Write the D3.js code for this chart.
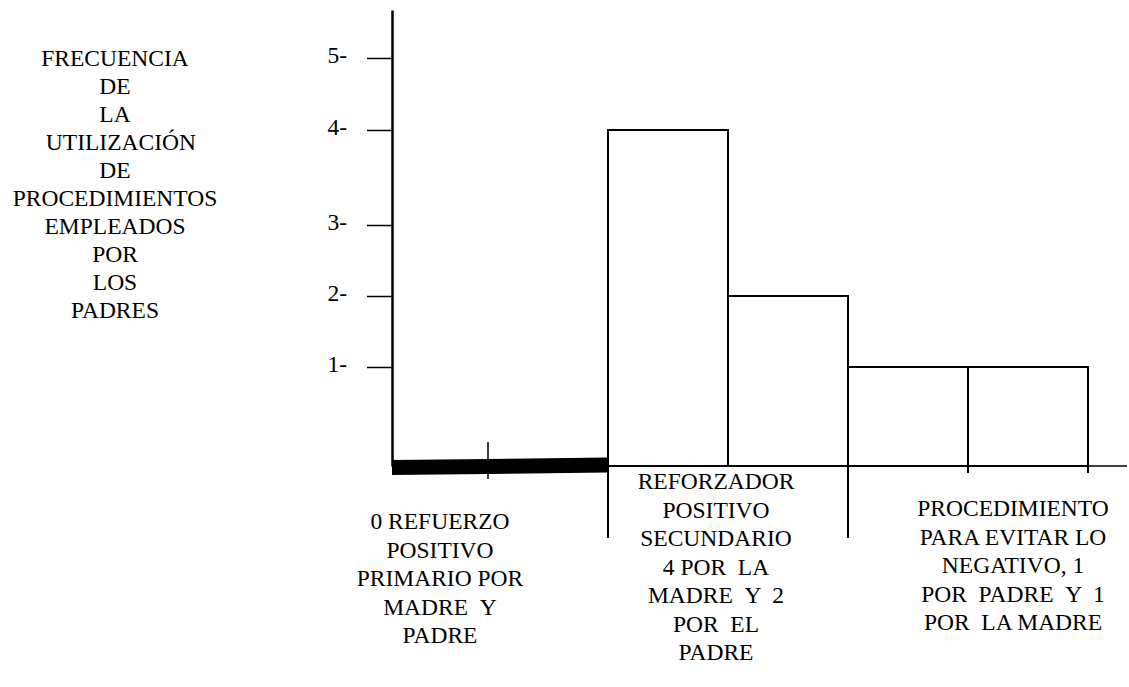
<!DOCTYPE html>
<html>
<head>
<meta charset="utf-8">
<script src="https://cdn.jsdelivr.net/npm/d3@7"></script>
<style>
  body { margin: 0; background: #fff; }
</style>
</head>
<body>
<div id="chart"></div>
<script>
// Frecuencia de procedimientos empleados por los padres
const yTitleLines = ['FRECUENCIA', 'DE', 'LA', '\u00a0\u00a0UTILIZACIÓN', 'DE', 'PROCEDIMIENTOS', 'EMPLEADOS', 'POR', 'LOS', 'PADRES'];
const yTicks = [1, 2, 3, 4, 5];

// one entry per bar (madre / padre inside each procedure)
const barGroup = [0, 0, 1, 1, 2, 2];
const barParent = ['Madre', 'Padre', 'Madre', 'Padre', 'Padre', 'Madre'];
const barValues = [0, 0, 4, 2, 1, 1];

const groupLabels = [
    ['0 REFUERZO', 'POSITIVO', 'PRIMARIO POR', 'MADRE  Y', 'PADRE'],
    ['REFORZADOR', 'POSITIVO', 'SECUNDARIO', '4 POR  LA', 'MADRE  Y  2', 'POR  EL', 'PADRE'],
    ['PROCEDIMIENTO', 'PARA EVITAR LO', 'NEGATIVO, 1', 'POR  PADRE  Y  1', 'POR  LA MADRE']
];

const width = 1129, height = 687;

const svg = d3.select('#chart')
    .append('svg')
    .attr('width', width)
    .attr('height', height);

function styleText(sel) {
    return sel
        .attr('font-family', 'Liberation Serif')
        .attr('font-size', 23.5)
        .attr('fill', '#000')
        .style('font-family', '"Liberation Serif"')
        .style('font-size', '23.5px');
}

// keep the double spaces of the original
const keepSpaces = s => s.replace(/  /g, ' \u00a0');

// Scales (hand drawn original: spacing is not even)
const xScale = d3.scaleLinear()
    .domain([0, 1, 2, 6])
    .range([392, 488, 608, 1088]);

const yScale = d3.scaleLinear()
    .domain([0, 1, 2, 3, 4, 5, 5.65])
    .range([466, 367, 296, 225, 130, 58, 10]);

const y0 = yScale(0);

// Y axis
const yAxis = svg.append('g')
    .attr('transform', `translate(${xScale(0)},0)`)
    .call(d3.axisLeft(yScale)
        .tickValues(yTicks)
        .tickSize(25)
        .tickPadding(20)
        .tickSizeOuter(0)
        .tickFormat(d => d + '-'));

yAxis.attr('font-family', 'Liberation Serif').attr('font-size', 23.5);

yAxis.select('.domain')
    .style('stroke', '#000')
    .style('stroke-width', 2.5);

yAxis.selectAll('.tick line')
    .style('stroke', '#000')
    .style('stroke-width', 1.5);

yAxis.selectAll('.tick text')
    .attr('dy', '0.2em')
    .call(styleText);

// Y title, one text per line
svg.selectAll('.ytitle')
    .data(yTitleLines)
    .join('text')
    .attr('class', 'ytitle')
    .attr('text-anchor', 'middle')
    .attr('x', 115)
    .attr('y', (d, i) => 66 + i * 28)
    .call(styleText)
    .text(d => d);

// Baseline
svg.append('line')
    .attr('x1', xScale(0))
    .attr('x2', 1127)
    .attr('y1', y0)
    .attr('y2', y0)
    .style('stroke', '#000')
    .style('stroke-width', 1.5);

const bars = barValues.map((v, i) => ({value: v, group: barGroup[i], parent: barParent[i], i: i}));

// Zero bars: heavy stroke along the baseline
svg.selectAll('.zero-bar')
    .data(bars.filter(d => d.value === 0))
    .join('path')
    .attr('class', 'zero-bar')
    .attr('d', d => {
        const xa = xScale(d.i), xb = xScale(d.i + 1);
        const slope = 2.5 / (xScale(2) - xScale(0));
        const ya = y0 + 1.5 - (xa - xScale(0)) * slope;
        const yb = y0 + 1.5 - (xb - xScale(0)) * slope;
        return `M${xa},${ya - 7.5}L${xb},${yb - 7.5}L${xb},${yb + 7.5}L${xa},${ya + 7.5}Z`;
    })
    .style('fill', '#000');

// divider between the two zero bars
svg.append('line')
    .attr('x1', xScale(1))
    .attr('x2', xScale(1))
    .attr('y1', y0 - 24)
    .attr('y2', y0 + 13)
    .style('stroke', '#000')
    .style('stroke-width', 1.5);

// Outlined bars
svg.selectAll('.bar')
    .data(bars.filter(d => d.value > 0))
    .join('rect')
    .attr('class', 'bar')
    .attr('x', d => xScale(d.i))
    .attr('width', d => xScale(d.i + 1) - xScale(d.i))
    .attr('y', d => yScale(d.value))
    .attr('height', d => y0 - yScale(d.value))
    .style('fill', 'none')
    .style('stroke', '#000')
    .style('stroke-width', 2);

// Group separators below the baseline
const groupStarts = [1, 2].map(g => barGroup.indexOf(g));
svg.selectAll('.sep')
    .data(groupStarts)
    .join('line')
    .attr('class', 'sep')
    .attr('x1', d => xScale(d))
    .attr('x2', d => xScale(d))
    .attr('y1', y0)
    .attr('y2', 538)
    .style('stroke', '#000')
    .style('stroke-width', 2);

// short ticks under the last group
svg.selectAll('.tick-under')
    .data(bars.filter(d => d.group === 2))
    .join('line')
    .attr('class', 'tick-under')
    .attr('x1', d => xScale(d.i + 1))
    .attr('x2', d => xScale(d.i + 1))
    .attr('y1', y0)
    .attr('y2', y0 + 7)
    .style('stroke', '#000')
    .style('stroke-width', 2);

// Category labels, one text per line
const labelShift = [-60, -12, 45];
const labelTop = [529, 489, 516];

groupLabels.forEach((lines, g) => {
    const idx = barGroup.map((v, i) => v === g ? i : -1).filter(i => i >= 0);
    const cx = (xScale(idx[0]) + xScale(idx[idx.length - 1] + 1)) / 2 + labelShift[g];
    svg.selectAll('.cat' + g)
        .data(lines)
        .join('text')
        .attr('class', 'cat' + g)
        .attr('text-anchor', 'middle')
        .attr('x', cx)
        .attr('y', (d, i) => labelTop[g] + i * 28.5)
        .call(styleText)
        .text(d => keepSpaces(d));
});
</script>
</body>
</html>
